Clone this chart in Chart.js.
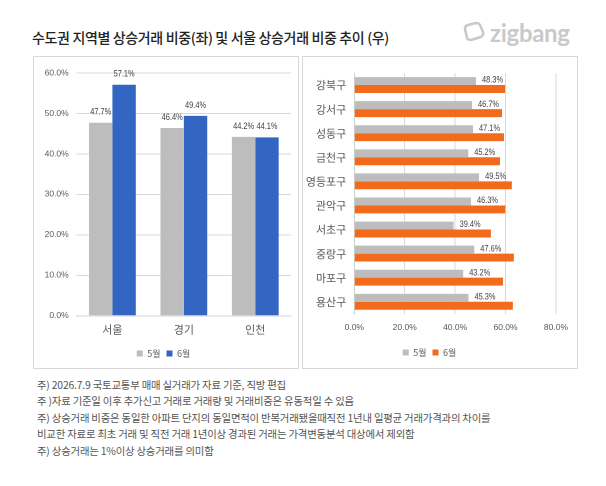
<!DOCTYPE html>
<html><head><meta charset="utf-8">
<script src="https://cdn.jsdelivr.net/npm/chart.js@4.4.1/dist/chart.umd.min.js"></script>
<style>
html,body{margin:0;padding:0;background:#fff;width:606px;height:486px;overflow:hidden;font-family:"Noto Sans CJK KR","Noto Sans",sans-serif;}
#title{position:absolute;left:32px;top:27px;font-size:14px;font-weight:500;color:#222;white-space:nowrap;letter-spacing:-0.35px;}
#logo{position:absolute;left:462px;top:17px;height:30px;display:flex;align-items:center;color:#c9c9c9;font-family:"Lato","Noto Sans",sans-serif;font-weight:700;font-size:24px;letter-spacing:-0.3px;}
#logo svg{margin-right:4px}
.panel{position:absolute;border:1px solid #d9d9d9;box-sizing:border-box;}
#p1{left:33px;top:56px;width:266px;height:313px;}
#p2{left:302px;top:56px;width:276px;height:313px;}
canvas{position:absolute;}
#notes{position:absolute;left:37px;top:377px;font-size:10.4px;color:#555;line-height:16.4px;white-space:nowrap;letter-spacing:-0.2px;}
</style></head>
<body>
<div id="title">수도권 지역별 상승거래 비중(좌) 및 서울 상승거래 비중 추이 (우)</div>
<div id="logo"><svg width="24" height="22" viewBox="0 0 24 22"><path d="M5 17 L3 8 Q3 5 6 4 L14 2 Q17 2 18 4 L21 11 Q22 14 19 16 L9 19 Q6 19 5 17 Z" fill="none" stroke="#c9c9c9" stroke-width="2.6" stroke-linejoin="round"/></svg>zigbang</div>
<div class="panel" id="p1"></div>
<div class="panel" id="p2"></div>
<canvas id="c1" style="left:34px;top:57px;width:264px;height:311px"></canvas>
<canvas id="c2" style="left:303px;top:57px;width:274px;height:311px"></canvas>
<div id="notes">
주) 2026.7.9 국토교통부 매매 실거래가 자료 기준, 직방 편집<br>
주 )자료 기준일 이후 추가신고 거래로 거래량 및 거래비중은 유동적일 수 있음<br>
주) 상승거래 비중은 동일한 아파트 단지의 동일면적이 반복거래됐을때직전 1년내 일평균 거래가격과의 차이를<br>
비교한 자료로 최초 거래 및 직전 거래 1년이상 경과된 거래는 가격변동분석 대상에서 제외함<br>
주) 상승거래는 1%이상 상승거래를 의미함
</div>
<script>
// ---- data ----
const regions = ["서울", "경기", "인천"];
const regionMay = [47.7, 46.4, 44.2];
const regionJun = [57.1, 49.4, 44.1];
const regionTicks = [0, 10, 20, 30, 40, 50, 60];

const districts = ["강북구", "강서구", "성동구", "금천구", "영등포구", "관악구", "서초구", "중랑구", "마포구", "용산구"];
const districtMay = [48.3, 46.7, 47.1, 45.2, 49.5, 46.3, 39.4, 47.6, 43.2, 45.3];
const districtJun = [59.8, 58.6, 59.4, 57.8, 62.5, 59.9, 54.2, 63.3, 59.0, 62.9];
const districtTicks = [0, 20, 40, 60, 80];

const seriesNames = ["5월", "6월"];

const NUMF = '"Liberation Sans","DejaVu Sans",sans-serif';
const KR = '"Noto Sans CJK KR","Noto Sans",sans-serif';
const GRAY = '#bdbdbd', BLUE = '#3366c2', ORANGE = '#f26b1d';

const labelPlugin = {
  id: 'vlabels',
  afterDatasetsDraw(chart, args, opts) {
    const ctx = chart.ctx;
    chart.data.datasets.forEach((ds, di) => {
      if (opts.only !== undefined && opts.only !== di) return;
      const meta = chart.getDatasetMeta(di);
      meta.data.forEach((el, i) => {
        const v = ds.data[i].toFixed(1) + '%';
        ctx.save();
        ctx.font = '9.5px ' + NUMF;
        ctx.fillStyle = '#404040';
        if (opts.horizontal) {
          ctx.translate(el.x + 6, el.y - 1);
          ctx.scale(0.78, 1);
          ctx.textAlign = 'left'; ctx.textBaseline = 'middle';
        } else {
          ctx.translate(el.x, el.y - 6);
          ctx.scale(0.78, 1);
          ctx.textAlign = 'center'; ctx.textBaseline = 'bottom';
        }
        ctx.fillText(v, 0, 0);
        ctx.restore();
      });
    });
  }
};

const legendOpts = {
  position: 'bottom',
  labels: { boxWidth: 6, boxHeight: 6, padding: 6, color: '#595959', font: { family: KR, size: 9 } }
};

new Chart(document.getElementById('c1'), {
  type: 'bar',
  data: {
    labels: regions,
    datasets: [
      { label: seriesNames[0], data: regionMay, backgroundColor: GRAY },
      { label: seriesNames[1], data: regionJun, backgroundColor: BLUE }
    ]
  },
  options: {
    responsive: false, animation: false, devicePixelRatio: 2,
    layout: { padding: { left: 2, right: 7, top: 16, bottom: 0 } },
    datasets: { bar: { categoryPercentage: 0.655, barPercentage: 1.0 } },
    plugins: { legend: legendOpts, tooltip: { enabled: false }, vlabels: { horizontal: false } },
    scales: {
      x: {
        grid: { display: false, drawTicks: false },
        border: { color: '#d0d0d0' },
        ticks: { color: '#595959', font: { family: KR, size: 11 }, padding: 7 }
      },
      y: {
        min: 0, max: 60,
        afterBuildTicks: s => { s.ticks = regionTicks.map(v => ({ value: v })); },
        afterFit: s => { s.width = 40.7; },
        grid: { color: '#d9d9d9', drawTicks: false },
        border: { display: false },
        ticks: { color: '#595959', font: { family: NUMF, size: 8.5 }, padding: 8, callback: v => v.toFixed(1) + '%' }
      }
    }
  },
  plugins: [labelPlugin]
});

new Chart(document.getElementById('c2'), {
  type: 'bar',
  data: {
    labels: districts,
    datasets: [
      { label: seriesNames[0], data: districtMay, backgroundColor: GRAY },
      { label: seriesNames[1], data: districtJun, backgroundColor: ORANGE }
    ]
  },
  options: {
    indexAxis: 'y',
    responsive: false, animation: false, devicePixelRatio: 2,
    layout: { padding: { left: 0, right: 21, top: 16, bottom: 1 } },
    datasets: { bar: { categoryPercentage: 0.66, barPercentage: 1.0 } },
    plugins: { legend: legendOpts, tooltip: { enabled: false }, vlabels: { horizontal: true, only: 0 } },
    scales: {
      x: {
        min: 0, max: 80,
        afterBuildTicks: s => { s.ticks = districtTicks.map(v => ({ value: v })); },
        grid: { color: '#d9d9d9', drawTicks: false },
        border: { display: false },
        ticks: { color: '#595959', font: { family: NUMF, size: 8.5 }, padding: 9, callback: v => v.toFixed(1) + '%' }
      },
      y: {
        afterFit: s => { s.width = 51.3; },
        grid: { display: false, drawTicks: false },
        border: { color: '#d0d0d0' },
        ticks: { color: '#595959', font: { family: KR, size: 11 }, padding: 8 }
      }
    }
  },
  plugins: [labelPlugin]
});
</script>
</body></html>
